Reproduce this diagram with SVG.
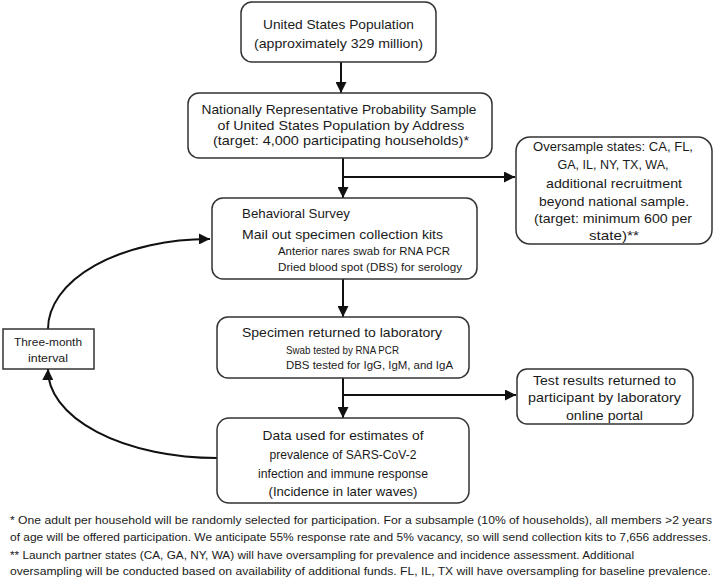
<svg xmlns="http://www.w3.org/2000/svg" width="714" height="577" viewBox="0 0 714 577">
<defs>
<marker id="arr" markerUnits="userSpaceOnUse" markerWidth="11" markerHeight="11" refX="11" refY="5.5" orient="auto">
<path d="M0,0 L11,5.5 L0,11 z" fill="#111"/>
</marker>
<style>
.box{fill:#fff;stroke:#333;stroke-width:1.5}
.t{font-family:"Liberation Sans",Arial,sans-serif;font-size:13.5px;fill:#1a1a1a}
.s{font-family:"Liberation Sans",Arial,sans-serif;font-size:11.3px;fill:#1a1a1a}
.c{text-anchor:middle}
.ln{fill:none;stroke:#111;stroke-width:2}
</style>
</defs>
<rect width="714" height="577" fill="#fff"/>
<g id="connectors">
<line class="ln" x1="341" y1="62" x2="341" y2="93" marker-end="url(#arr)"/>
<line class="ln" x1="343" y1="158" x2="343" y2="198" marker-end="url(#arr)"/>
<line class="ln" x1="343" y1="177" x2="515" y2="177" marker-end="url(#arr)"/>
<line class="ln" x1="343" y1="279" x2="343" y2="317" marker-end="url(#arr)"/>
<line class="ln" x1="343" y1="378" x2="343" y2="418" marker-end="url(#arr)"/>
<line class="ln" x1="343" y1="395" x2="516" y2="395" marker-end="url(#arr)"/>
<path class="ln" d="M48,329 A161,90 0 0,1 210,239" marker-end="url(#arr)"/>
<path class="ln" d="M217,458 A169,88 0 0,1 48,369" marker-end="url(#arr)"/>
</g>
<g id="n1">
<rect class="box" x="241" y="2" width="195" height="60" rx="11"/>
<text class="t c" x="338.5" y="29" textLength="151" lengthAdjust="spacingAndGlyphs">United States Population</text>
<text class="t c" x="338.5" y="48" textLength="169" lengthAdjust="spacingAndGlyphs">(approximately 329 million)</text>
</g>
<g id="n2">
<rect class="box" x="188" y="93" width="304" height="65" rx="11"/>
<text class="t c" x="339" y="114" textLength="275" lengthAdjust="spacingAndGlyphs">Nationally Representative Probability Sample</text>
<text class="t c" x="341" y="129.5" textLength="247" lengthAdjust="spacingAndGlyphs">of United States Population by Address</text>
<text class="t c" x="341" y="145" textLength="256" lengthAdjust="spacingAndGlyphs">(target: 4,000 participating households)*</text>
</g>
<g id="n3">
<rect class="box" x="516" y="137" width="196" height="107" rx="14"/>
<text class="t c" x="613" y="150.5" textLength="160" lengthAdjust="spacingAndGlyphs">Oversample states: CA, FL,</text>
<text class="t c" x="613" y="169" textLength="111" lengthAdjust="spacingAndGlyphs">GA, IL, NY, TX, WA,</text>
<text class="t c" x="614" y="187.5" textLength="136" lengthAdjust="spacingAndGlyphs">additional recruitment</text>
<text class="t c" x="614" y="206" textLength="150" lengthAdjust="spacingAndGlyphs">beyond national sample.</text>
<text class="t c" x="613" y="223" textLength="158" lengthAdjust="spacingAndGlyphs">(target: minimum 600 per</text>
<text class="t c" x="614" y="240" textLength="50" lengthAdjust="spacingAndGlyphs">state)**</text>
</g>
<g id="n4">
<rect class="box" x="212" y="198" width="265" height="81" rx="11"/>
<text class="t" x="242" y="218" textLength="108" lengthAdjust="spacingAndGlyphs">Behavioral Survey</text>
<text class="t" x="242" y="239" textLength="201" lengthAdjust="spacingAndGlyphs">Mail out specimen collection kits</text>
<text class="s" x="278" y="255" textLength="172" lengthAdjust="spacingAndGlyphs">Anterior nares swab for RNA PCR</text>
<text class="s" x="278" y="271" textLength="184" lengthAdjust="spacingAndGlyphs">Dried blood spot (DBS) for serology</text>
</g>
<g id="n5">
<rect class="box" x="217" y="317" width="252" height="61" rx="11"/>
<text class="t c" x="342" y="337" textLength="200" lengthAdjust="spacingAndGlyphs">Specimen returned to laboratory</text>
<text class="s" x="286" y="354" textLength="113" lengthAdjust="spacingAndGlyphs">Swab tested by RNA PCR</text>
<text class="s" x="286" y="368.5" textLength="167" lengthAdjust="spacingAndGlyphs">DBS tested for IgG, IgM, and IgA</text>
</g>
<g id="n6">
<rect class="box" x="517" y="369" width="176" height="55" rx="10"/>
<text class="t c" x="604.5" y="385" textLength="143" lengthAdjust="spacingAndGlyphs">Test results returned to</text>
<text class="t c" x="604.5" y="402" textLength="153" lengthAdjust="spacingAndGlyphs">participant by laboratory</text>
<text class="t c" x="604.5" y="419.5" textLength="77" lengthAdjust="spacingAndGlyphs">online portal</text>
</g>
<g id="n7">
<rect class="box" x="217" y="418" width="252" height="85" rx="12"/>
<text class="t c" x="343" y="440" textLength="161" lengthAdjust="spacingAndGlyphs">Data used for estimates of</text>
<text class="t c" x="343" y="459" textLength="147" lengthAdjust="spacingAndGlyphs">prevalence of SARS-CoV-2</text>
<text class="t c" x="343" y="477.5" textLength="170" lengthAdjust="spacingAndGlyphs">infection and immune response</text>
<text class="t c" x="343" y="495.5" textLength="149" lengthAdjust="spacingAndGlyphs">(Incidence in later waves)</text>
</g>
<g id="n8">
<rect x="3" y="329" width="91" height="40" fill="#fff" stroke="#333" stroke-width="1.5"/>
<text class="s c" x="48" y="346" textLength="68" lengthAdjust="spacingAndGlyphs">Three-month</text>
<text class="s c" x="48" y="362" textLength="40" lengthAdjust="spacingAndGlyphs">interval</text>
</g>
<g id="footnotes">
<text class="s" x="10" y="524" textLength="702" lengthAdjust="spacingAndGlyphs">* One adult per household will be randomly selected for participation. For a subsample (10% of households), all members &gt;2 years</text>
<text class="s" x="10" y="541" textLength="701" lengthAdjust="spacingAndGlyphs">of age will be offered participation. We anticipate 55% response rate and 5% vacancy, so will send collection kits to 7,656 addresses.</text>
<text class="s" x="10" y="559" textLength="624" lengthAdjust="spacingAndGlyphs">** Launch partner states (CA, GA, NY, WA) will have oversampling for prevalence and incidence assessment. Additional</text>
<text class="s" x="10" y="575" textLength="701" lengthAdjust="spacingAndGlyphs">oversampling will be conducted based on availability of additional funds. FL, IL, TX will have oversampling for baseline prevalence.</text>
</g>
</svg>
